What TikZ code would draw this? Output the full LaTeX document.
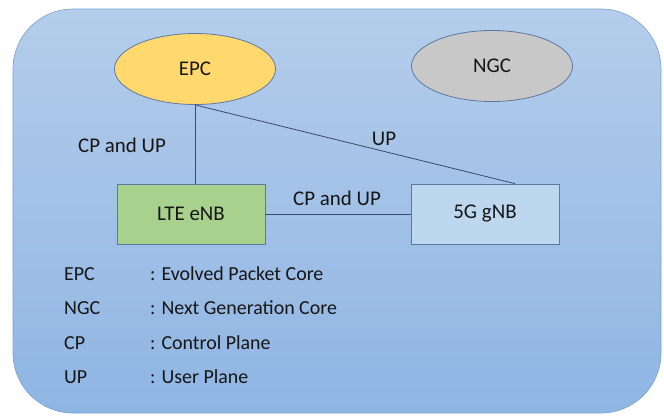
\documentclass[tikz,border=0pt]{standalone}
\usepackage{fontspec}
\setmainfont{Carlito}
\usetikzlibrary{shapes.geometric}
\definecolor{bgtop}{RGB}{180,205,235}
\definecolor{bgbot}{RGB}{143,181,227}
\definecolor{bgline}{RGB}{120,160,210}
\definecolor{epcfill}{RGB}{255,217,110}
\definecolor{ngcfill}{RGB}{200,200,200}
\definecolor{ltefill}{RGB}{169,209,142}
\definecolor{gnbfill}{RGB}{189,215,238}
\definecolor{edge}{RGB}{95,120,160}
\definecolor{wire}{RGB}{55,75,110}
\definecolor{ink}{RGB}{22,22,22}
\tikzset{
  big/.style={font=\fontsize{21}{25}\selectfont},
  core/.style={ellipse, draw=edge, line width=0.8bp, minimum width=161bp,
    minimum height=71bp, inner sep=0pt, text=ink, big},
  station/.style={rectangle, draw=edge, line width=0.8bp, minimum width=148bp,
    minimum height=60bp, inner sep=0pt, text=ink, big},
  lbl/.style={text=ink, inner sep=0pt, big},
  legend/.style={text=ink, inner sep=0pt, anchor=west, font=\fontsize{20}{24}\selectfont},
  link/.style={draw=wire, line width=0.8bp},
}
\begin{document}
\begin{tikzpicture}[x=1bp,y=-1bp]
\useasboundingbox (0,0) rectangle (664,416);
% backdrop panel
\shade[top color=bgtop, bottom color=bgbot, draw=bgline, line width=0.6bp,
  rounded corners=60bp] (13,9) rectangle (661,413);

% core networks
\node[core, fill=epcfill] (epc) at (195,69) {EPC};
\node[core, fill=ngcfill] (ngc) at (492,66) {NGC};

% base stations
\node[station, fill=ltefill] (lte) at (191,214) {LTE eNB};
\node[station, fill=gnbfill] (gnb) at (485,214) {5G gNB};

% interfaces
\draw[link] (epc.south) -- (lte.north -| epc.south);
\draw[link] (epc.south) -- ([xshift=30bp]gnb.north);
\draw[link] (lte.east) -- (gnb.west);

\node[lbl] (l1) at (122,145) {CP and UP};
\node[lbl] (l2) at (384,139) {UP};
\node[lbl] (l3) at (337,198) {CP and UP};

% abbreviations
\node[legend] (a1) at (64,274) {EPC};
\node[legend] (a2) at (64,308) {NGC};
\node[legend] (a3) at (64,343) {CP};
\node[legend] (a4) at (64,377) {UP};
\node[legend] (b1) at (150,274) {: Evolved Packet Core};
\node[legend] (b2) at (150,308) {: Next Generation Core};
\node[legend] (b3) at (150,343) {: Control Plane};
\node[legend] (b4) at (150,377) {: User Plane};
\end{tikzpicture}
\end{document}
